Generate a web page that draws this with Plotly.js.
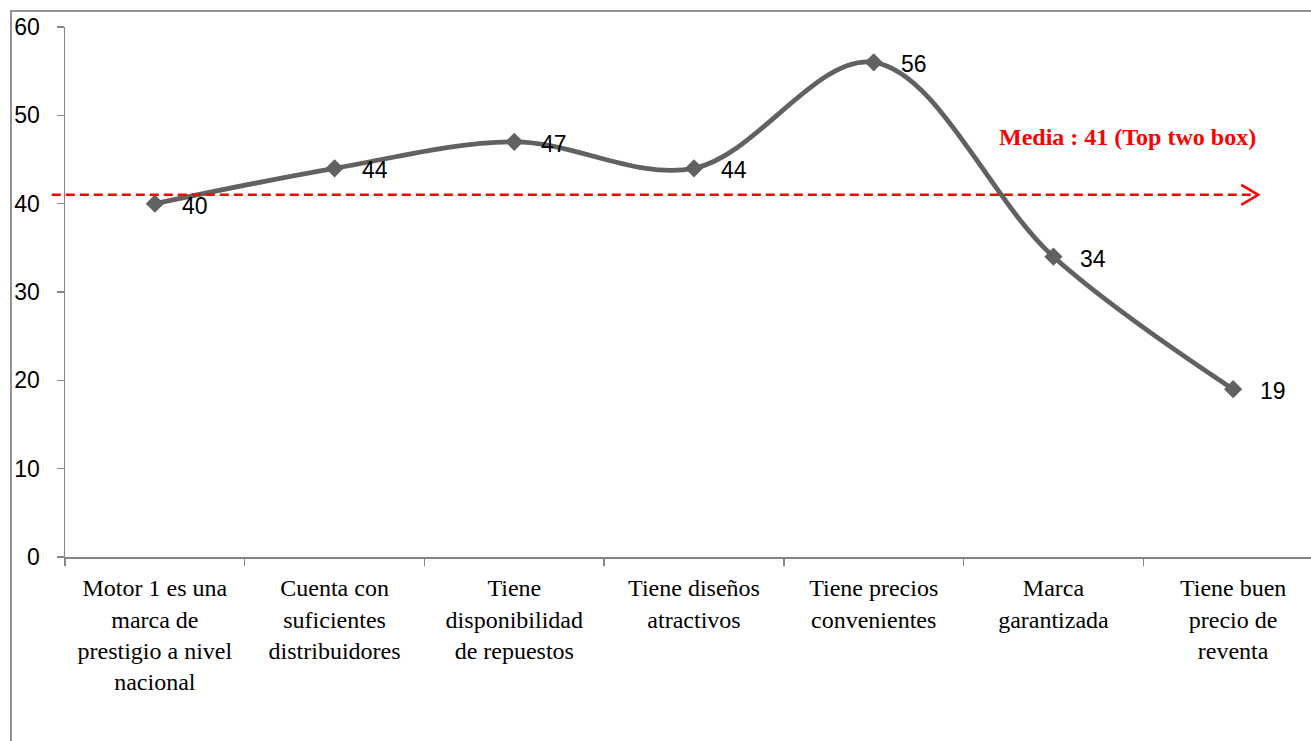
<!DOCTYPE html>
<html>
<head>
<meta charset="utf-8">
<script src="https://cdn.plot.ly/plotly-3.0.1.min.js"></script>
<style>
  html, body { margin: 0; padding: 0; background: #fff; overflow: hidden; width: 1311px; height: 741px; }
  #frame { position: absolute; left: 10px; top: 10px; width: 1400px; height: 800px; border: 2px solid #939393; box-sizing: border-box; }
  #chart { position: absolute; left: 0; top: 0; }
</style>
</head>
<body>
<div id="frame"></div>
<div id="chart"></div>
<script>
// Atributos evaluados (porcentaje Top two box)
const categories = [
  'Motor 1 es una<br>marca de<br>prestigio a nivel<br>nacional',
  'Cuenta con<br>suficientes<br>distribuidores',
  'Tiene<br>disponibilidad<br>de repuestos',
  'Tiene diseños<br>atractivos',
  'Tiene precios<br>convenientes',
  'Marca<br>garantizada',
  'Tiene buen<br>precio de<br>reventa'
];
const values = [40, 44, 47, 44, 56, 34, 19];
const valueLabels = ['40', '44', '47', '44', '56', '34', '19'];
const meanValue = 41;
const meanLabel = 'Media : 41 (Top two box)';
const yTicks = [0, 10, 20, 30, 40, 50, 60];

const seriesColor = '#616161';
const axisColor = '#868686';
const meanColor = '#ff0000';

const trace = {
  type: 'scatter',
  mode: 'lines+markers',
  x: categories,
  y: values,
  line: { color: seriesColor, width: 4.8, shape: 'spline', smoothing: 1 },
  marker: { symbol: 'diamond', size: 14, color: seriesColor },
  hoverinfo: 'skip',
  cliponaxis: false
};

// etiquetas de valor a la derecha de cada punto
const valueAnnotations = values.map((v, i) => ({
  x: categories[i], y: v, xref: 'x', yref: 'y',
  text: valueLabels[i], showarrow: false,
  xanchor: 'left', yanchor: 'middle', xshift: 25, yshift: -2,
  font: { family: 'Liberation Sans, Arial, sans-serif', size: 23, color: '#000' }
}));

const meanAnnotation = {
  x: 0.9485, y: meanValue, xref: 'paper', yref: 'y',
  text: '<b>' + meanLabel + '</b>', showarrow: false,
  xanchor: 'right', yanchor: 'middle', yshift: 58,
  font: { family: 'Liberation Serif, Times New Roman, serif', size: 24, color: meanColor }
};

const shapes = [
  // línea de la media
  {
    type: 'line', xref: 'paper', yref: 'y',
    x0: -0.0105, x1: 0.9475, y0: meanValue, y1: meanValue,
    line: { color: meanColor, width: 2.5, dash: '9px,5px' }
  },
  // punta de flecha
  {
    type: 'path', xref: 'paper', yref: 'y',
    xsizemode: 'pixel', ysizemode: 'pixel',
    xanchor: 0.9485, yanchor: meanValue,
    path: 'M -17,10 L 0,0 L -17,-10',
    line: { color: meanColor, width: 2.5 }
  }
];

const layout = {
  width: 1340,
  height: 741,
  margin: { l: 65, r: 17.4, t: 27, b: 184 },
  paper_bgcolor: 'rgba(0,0,0,0)',
  plot_bgcolor: 'rgba(0,0,0,0)',
  showlegend: false,
  xaxis: {
    type: 'category',
    range: [-0.5, 6.5],
    tickson: 'boundaries',
    ticks: 'outside', ticklen: 7, tickwidth: 1.5, tickcolor: axisColor,
    showline: true, linecolor: axisColor, linewidth: 1.5,
    showgrid: false, zeroline: false,
    ticklabelstandoff: 9,
    tickfont: { family: 'Liberation Serif, Times New Roman, serif', size: 24, color: '#000' }
  },
  yaxis: {
    range: [0, 60],
    tickvals: yTicks,
    ticktext: yTicks.map(String),
    ticks: 'outside', ticklen: 7, tickwidth: 1.5, tickcolor: axisColor,
    showline: true, linecolor: axisColor, linewidth: 1.5,
    showgrid: false, zeroline: false,
    ticklabelstandoff: 12,
    tickfont: { family: 'Liberation Sans, Arial, sans-serif', size: 23, color: '#000' }
  },
  shapes: shapes,
  annotations: valueAnnotations.concat([meanAnnotation])
};

Plotly.newPlot('chart', [trace], layout, { staticPlot: true, displayModeBar: false });
</script>
</body>
</html>
